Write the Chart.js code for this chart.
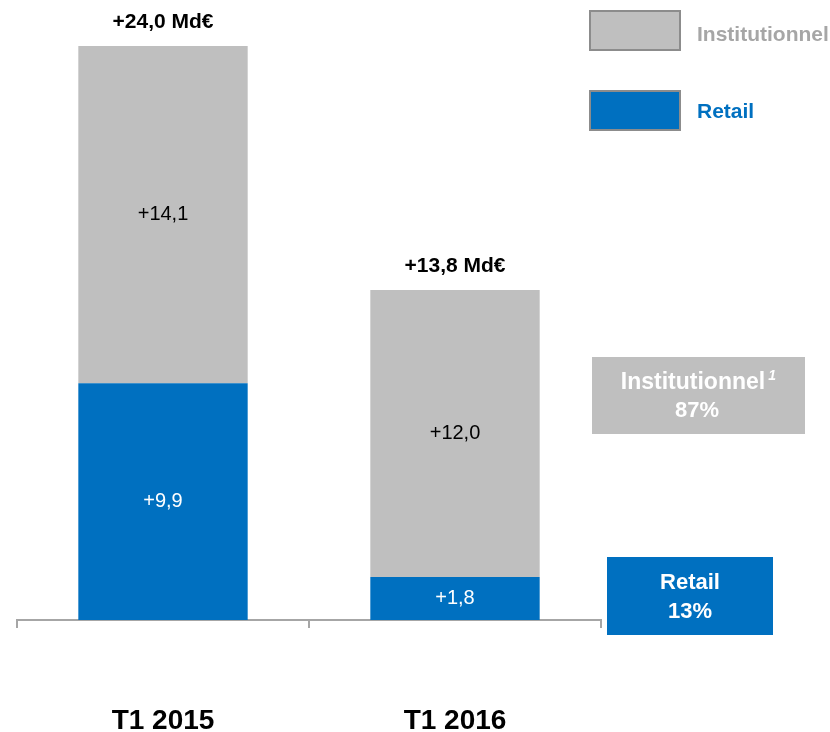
<!DOCTYPE html>
<html lang="fr">
<head>
<meta charset="UTF-8">
<title>Collecte nette T1</title>
<script src="https://cdn.jsdelivr.net/npm/chart.js"></script>
<style>
    html, body { margin: 0; padding: 0; background: #ffffff; }
    #wrap { width: 830px; height: 732px; }
</style>
</head>
<body>
<div id="wrap"><canvas id="chart" width="830" height="732"></canvas></div>
<script>
    // data
    const categories = ['T1 2015', 'T1 2016'];
    const retail = [9.9, 1.8];
    const institutionnel = [14.1, 12.0];
    const retailLabels = ['+9,9', '+1,8'];
    const instLabels = ['+14,1', '+12,0'];
    const totalLabels = ['+24,0 Md€', '+13,8 Md€'];
    const shareInst = '87%';
    const shareRetail = '13%';

    const GREY = '#bfbfbf';
    const BLUE = '#0070c0';
    const FONT = 'Arial, "Liberation Sans", sans-serif';

    // labels, totals, legend and the two share boxes
    const annotations = {
        id: 'annotations',
        afterDatasetsDraw(chart) {
            const c = chart.ctx;
            const low = chart.getDatasetMeta(0).data;
            const high = chart.getDatasetMeta(1).data;
            c.save();
            c.textAlign = 'center';
            c.textBaseline = 'middle';

            low.forEach((bar, i) => {
                c.font = '20px ' + FONT;
                c.fillStyle = '#ffffff';
                c.fillText(retailLabels[i], bar.x, (bar.y + bar.base) / 2);
                const top = high[i];
                c.fillStyle = '#000000';
                c.fillText(instLabels[i], top.x, (top.y + top.base) / 2);
                c.font = 'bold 21px ' + FONT;
                c.fillText(totalLabels[i], top.x, top.y - 24);
            });

            // legend
            c.lineWidth = 2;
            c.strokeStyle = '#8c8c8c';
            c.fillStyle = GREY;
            c.fillRect(590, 11, 90, 39);
            c.strokeRect(590, 11, 90, 39);
            c.fillStyle = BLUE;
            c.fillRect(590, 91, 90, 39);
            c.strokeRect(590, 91, 90, 39);
            c.textAlign = 'left';
            c.font = 'bold 21px ' + FONT;
            c.fillStyle = '#a6a6a6';
            c.fillText('Institutionnel', 697, 35);
            c.fillStyle = BLUE;
            c.fillText('Retail', 697, 112);

            // share boxes
            c.fillStyle = GREY;
            c.fillRect(592, 357, 213, 77);
            c.fillStyle = BLUE;
            c.fillRect(607, 557, 166, 78);

            c.fillStyle = '#ffffff';
            c.textAlign = 'center';
            c.font = 'bold 23px ' + FONT;
            const word = 'Institutionnel';
            const w = c.measureText(word).width;
            c.fillText(word, 693, 383);
            c.font = 'italic bold 14px ' + FONT;
            c.textAlign = 'left';
            c.fillText('1', 693 + w / 2 + 3, 376);
            c.textAlign = 'center';
            c.font = 'bold 22px ' + FONT;
            c.fillText(shareInst, 697, 411);
            c.font = 'bold 22px ' + FONT;
            c.fillText('Retail', 690, 583);
            c.fillText(shareRetail, 690, 612);
            c.restore();
        }
    };

    new Chart(document.getElementById('chart'), {
        type: 'bar',
        data: {
            labels: categories,
            datasets: [
                { label: 'Retail', data: retail, backgroundColor: BLUE },
                { label: 'Institutionnel', data: institutionnel, backgroundColor: GREY }
            ]
        },
        options: {
            responsive: false,
            animation: false,
            layout: { padding: { left: 17, right: 229, top: 10, bottom: 0 } },
            plugins: {
                legend: { display: false },
                tooltip: { enabled: false }
            },
            datasets: {
                bar: { categoryPercentage: 0.58, barPercentage: 1 }
            },
            scales: {
                x: {
                    stacked: true,
                    afterFit: (s) => { s.height = 112; },
                    border: { display: true, color: '#a6a6a6', width: 2 },
                    grid: {
                        offset: true,
                        drawOnChartArea: false,
                        tickLength: 8,
                        color: '#a6a6a6',
                        lineWidth: 2
                    },
                    ticks: {
                        padding: 76,
                        color: '#000000',
                        font: { family: FONT, size: 28, weight: 'bold' }
                    }
                },
                y: {
                    stacked: true,
                    display: false,
                    min: 0,
                    max: 25.5
                }
            }
        },
        plugins: [annotations]
    });
</script>
</body>
</html>
